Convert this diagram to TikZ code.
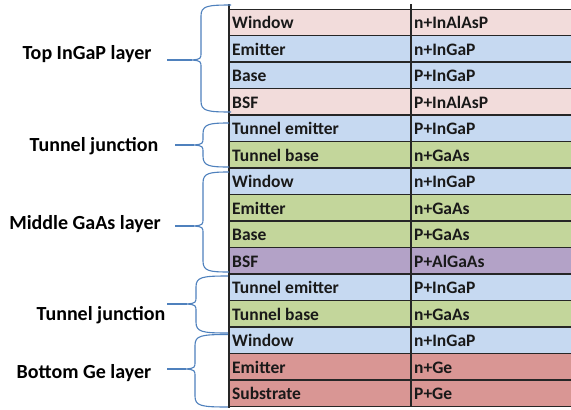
\documentclass[tikz,border=0pt]{standalone}
\usepackage{fontspec}
\setmainfont{Carlito}
\definecolor{pinkc}{HTML}{F2DCDB}
\definecolor{bluec}{HTML}{C6D9F1}
\definecolor{greenc}{HTML}{C3D69B}
\definecolor{purplec}{HTML}{B3A2C7}
\definecolor{redc}{HTML}{D99694}
\definecolor{bracec}{HTML}{4F81BD}
\definecolor{gridc}{HTML}{262626}
\newcommand\mybrace[6]{%
  \draw[bracestyle] (#6,#1) .. controls (#4+6,#1) and (#4,#1+1) .. (#4,#1+11)
    -- (#4,#3-8) .. controls (#4,#3-1) .. (#4-9,#3)
    .. controls (#4,#3+1) .. (#4,#3+8)
    -- (#4,#2-11) .. controls (#4,#2-1) and (#4+6,#2) .. (#6,#2);
  \draw[bracestyle] (#5,#3) -- (#4-9,#3);
}
\begin{document}
\begin{tikzpicture}[x=1pt,y=-1pt,
  celltext/.style={anchor=base west,inner sep=0pt,font=\fontsize{17.5}{20}\selectfont\bfseries,text=black!90},
  labeltext/.style={anchor=base,inner sep=0pt,font=\fontsize{20}{22}\selectfont\bfseries,text=black},
  bracestyle/.style={draw=bracec,line width=1.1pt},
  gridline/.style={draw=gridc,line width=1.2pt}]
\useasboundingbox (0,0) rectangle (571,410);
\fill[white] (0,0) rectangle (571,410);
\foreach \i/\a/\b/\c in {1/Window/n+InAlAsP/pinkc,2/Emitter/n+InGaP/bluec,3/Base/P+InGaP/bluec,4/BSF/P+InAlAsP/pinkc,5/Tunnel emitter/P+InGaP/bluec,6/Tunnel base/n+GaAs/greenc,7/Window/n+InGaP/bluec,8/Emitter/n+GaAs/greenc,9/Base/P+GaAs/greenc,10/BSF/P+AlGaAs/purplec,11/Tunnel emitter/P+InGaP/bluec,12/Tunnel base/n+GaAs/greenc,13/Window/n+InGaP/bluec,14/Emitter/n+Ge/redc,15/Substrate/P+Ge/redc}{
  \pgfmathsetmacro\yt{9+(\i-1)*26.5}
  \fill[\c] (229,\yt) rectangle (571,\yt+26.5);
  \node[celltext] (l\i) at (232,\yt+19.8) {\a};
  \node[celltext] (r\i) at (414,\yt+19.8) {\b};
}
\foreach \i in {1,...,14}{
  \draw[gridline] (229,9+\i*26.5) -- (571,9+\i*26.5);
}
\draw[draw=gridc,line width=0.8pt] (229,9) -- (571,9);
\draw[gridline] (229,406.5) -- (571,406.5);
\draw[draw=gridc,line width=1.3pt] (411,4) -- (411,407);
\draw[draw=gridc,line width=2.4pt] (229,4) -- (229,407.5);
\mybrace{5}{112}{60}{201}{167}{231}
\mybrace{123}{167}{145}{203}{175}{229}
\mybrace{172}{272}{226}{203}{175}{229}
\mybrace{276}{333}{304}{196}{167}{228}
\mybrace{334.5}{407}{369}{195}{167}{228}
\node[labeltext] (t1) at (87,59) {Top InGaP layer};
\node[labeltext] (t2) at (94,151) {Tunnel junction};
\node[labeltext] (t3) at (85,229) {Middle GaAs layer};
\node[labeltext] (t4) at (101,320) {Tunnel junction};
\node[labeltext] (t5) at (84,378) {Bottom Ge layer};
\end{tikzpicture}
\end{document}
